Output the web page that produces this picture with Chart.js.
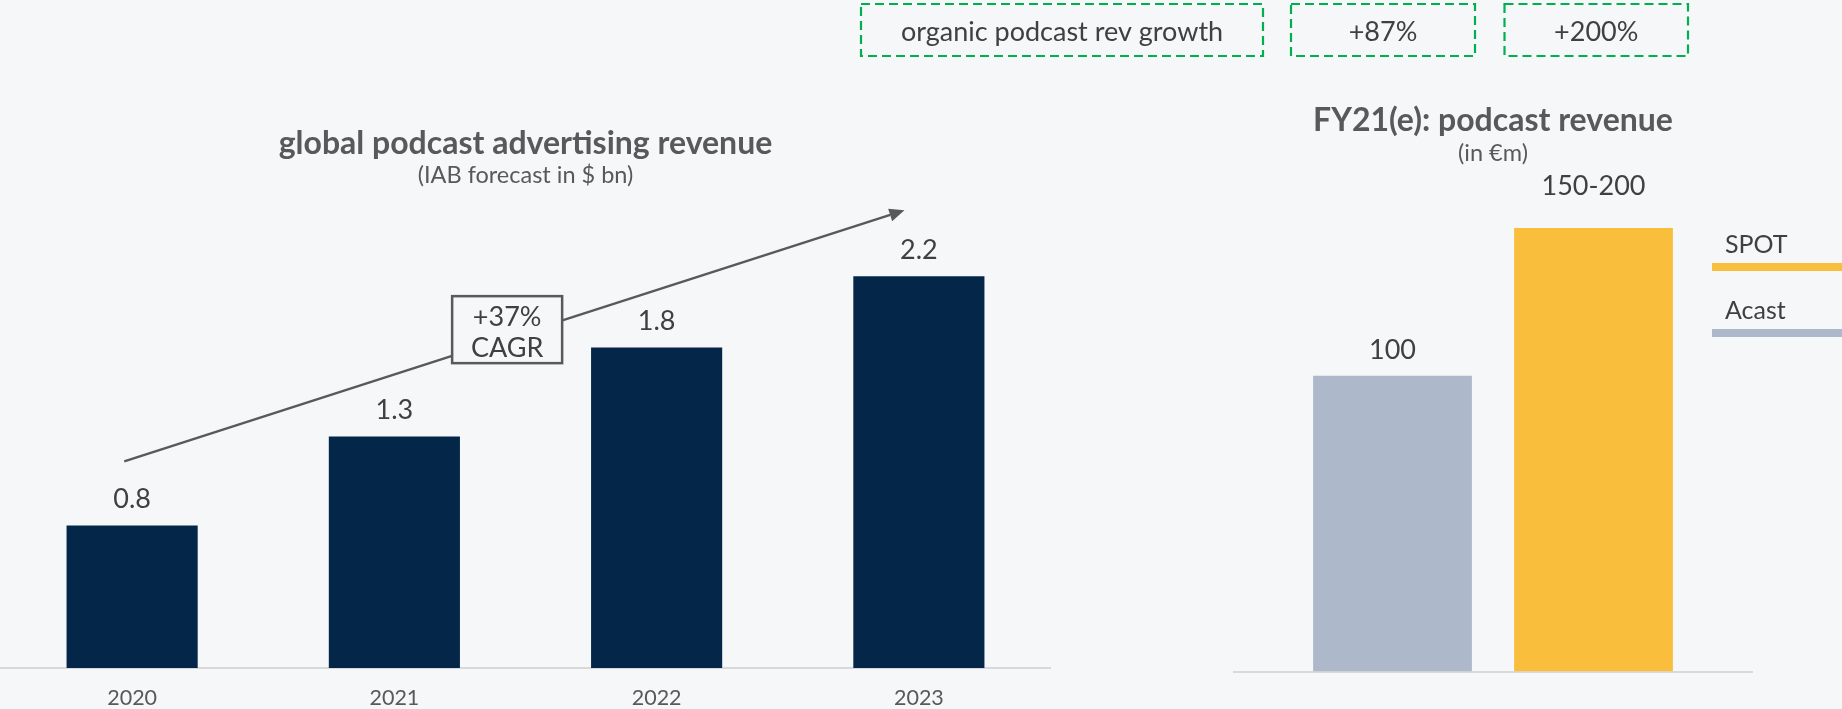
<!DOCTYPE html>
<html>
<head>
<meta charset="utf-8">
<script src="https://cdn.jsdelivr.net/npm/chart.js@4.4.1/dist/chart.umd.min.js"></script>
<style>
  html, body { margin: 0; padding: 0; background: #f6f7f9; }
  body { width: 1842px; height: 709px; position: relative; overflow: hidden; }
  canvas { position: absolute; left: 0; top: 0; }
</style>
</head>
<body>
<canvas id="adChart" width="1842" height="709"></canvas>
<canvas id="fyChart" width="1842" height="709"></canvas>
<script>
// ---- data ----
const years = ['2020', '2021', '2022', '2023'];
const adRevenueBn = [0.8, 1.3, 1.8, 2.2];
const cagrText = ['+37%', 'CAGR'];

const fyCategory = ['FY21(e)'];
const seriesNames = ['Acast', 'SPOT'];
const acastRevenueM = [100];
const spotRevenueRangeM = [150, 200];

const growthHeader = 'organic podcast rev growth';
const growthValues = ['+87%', '+200%'];

// ---- styling ----
const W = 1842;
const FONT = 'Lato, "Open Sans", sans-serif';
const GREY = '#595959';
const DARK = '#404040';
const NAVY = '#042648';
const ACAST = '#adb8cb';
const SPOT = '#f9be3c';
const BG = '#f6f7f9';

function drawText(ctx, s, x, y, size, weight, color, align) {
  ctx.save();
  ctx.font = `${weight} ${size}px ${FONT}`;
  ctx.fillStyle = color;
  ctx.textAlign = align || 'center';
  ctx.textBaseline = 'alphabetic';
  ctx.fillText(s, x, y);
  ctx.restore();
}

// titles, value labels, CAGR trend arrow for the ad revenue chart
const adDecor = {
  id: 'adDecor',
  afterDatasetsDraw(chart) {
    const ctx = chart.ctx;
    const xs = chart.scales.x, ys = chart.scales.y;
    const cx = (chart.chartArea.left + chart.chartArea.right) / 2;
    drawText(ctx, 'global podcast advertising revenue', cx, 153.5, 32, 'bold', GREY);
    drawText(ctx, '(IAB forecast in $ bn)', cx, 182.5, 23.5, 'normal', GREY);

    const meta = chart.getDatasetMeta(0);
    meta.data.forEach((bar, i) => {
      drawText(ctx, adRevenueBn[i].toFixed(1), bar.x, bar.y - 17.5, 27, 'normal', DARK);
    });

    // trend arrow
    const step = xs.getPixelForValue(1) - xs.getPixelForValue(0);
    const x0 = xs.getPixelForValue(0) - 0.03 * step;
    const x1 = xs.getPixelForValue(0) + 2.945 * step;
    const y0 = ys.getPixelForValue(1.16), y1 = ys.getPixelForValue(2.57);
    const ang = Math.atan2(y1 - y0, x1 - x0);
    const headLen = 15, headHalf = 6.5;
    ctx.save();
    ctx.strokeStyle = GREY; ctx.fillStyle = GREY; ctx.lineWidth = 2.4;
    ctx.beginPath();
    ctx.moveTo(x0, y0);
    ctx.lineTo(x1 - headLen * Math.cos(ang), y1 - headLen * Math.sin(ang));
    ctx.stroke();
    ctx.beginPath();
    ctx.moveTo(x1, y1);
    ctx.lineTo(x1 - headLen * Math.cos(ang) - headHalf * Math.sin(ang), y1 - headLen * Math.sin(ang) + headHalf * Math.cos(ang));
    ctx.lineTo(x1 - headLen * Math.cos(ang) + headHalf * Math.sin(ang), y1 - headLen * Math.sin(ang) - headHalf * Math.cos(ang));
    ctx.closePath();
    ctx.fill();

    // CAGR callout box sitting on the arrow
    const bx = xs.getPixelForValue(0) + 1.43 * step;
    const by = ys.getPixelForValue(1.9);
    const bw = 110, bh = 67;
    ctx.fillStyle = BG;
    ctx.fillRect(bx - bw / 2, by - bh / 2, bw, bh);
    ctx.lineWidth = 2.5;
    ctx.strokeStyle = GREY;
    ctx.strokeRect(bx - bw / 2, by - bh / 2, bw, bh);
    ctx.restore();
    drawText(ctx, cagrText[0], bx, by - 4, 27, 'normal', DARK);
    drawText(ctx, cagrText[1], bx, by + 27, 27, 'normal', DARK);
  }
};

// titles, value labels, legend and growth boxes for the FY21 chart
const fyDecor = {
  id: 'fyDecor',
  afterDatasetsDraw(chart) {
    const ctx = chart.ctx;
    const cx = (chart.chartArea.left + chart.chartArea.right) / 2;
    drawText(ctx, 'FY21(e): podcast revenue', cx, 130.5, 32, 'bold', GREY);
    drawText(ctx, '(in €m)', cx, 161, 23.5, 'normal', GREY);

    const acastBar = chart.getDatasetMeta(0).data[0];
    const spotBar = chart.getDatasetMeta(1).data[0];
    drawText(ctx, String(acastRevenueM[0]), acastBar.x, acastBar.y - 17, 27, 'normal', DARK);
    drawText(ctx, `${spotRevenueRangeM[0]}-${spotRevenueRangeM[1]}`, spotBar.x, spotBar.y - 33, 27, 'normal', DARK);

    // legend, listed top to bottom in reverse series order
    const ds = chart.data.datasets;
    [1, 0].forEach((k, row) => {
      const ty = 253 + row * 66;
      drawText(ctx, ds[k].label, 1725, ty, 25, 'normal', DARK, 'left');
      ctx.fillStyle = ds[k].backgroundColor;
      ctx.fillRect(1712, ty + 10, W - 1712, 8);
    });

    // dashed growth boxes
    const boxes = [
      [861, 4, 402, 52, growthHeader],
      [1291, 4, 184, 52, growthValues[0]],
      [1504.5, 4, 183.5, 52, growthValues[1]]
    ];
    ctx.save();
    ctx.strokeStyle = '#00b050';
    ctx.lineWidth = 2.2;
    ctx.setLineDash([9, 5]);
    boxes.forEach(b => ctx.strokeRect(b[0], b[1], b[2], b[3]));
    ctx.restore();
    boxes.forEach(b => drawText(ctx, b[4], b[0] + b[2] / 2, 41, 27, 'normal', DARK));
  }
};

new Chart(document.getElementById('adChart'), {
  type: 'bar',
  data: {
    labels: years,
    datasets: [{ data: adRevenueBn, backgroundColor: NAVY, borderWidth: 0, categoryPercentage: 1, barPercentage: 0.5 }]
  },
  options: {
    responsive: false, animation: false, events: [],
    layout: { padding: { left: 1, right: W - 1050, top: 205, bottom: 0 } },
    plugins: { legend: { display: false }, tooltip: { enabled: false } },
    scales: {
      x: {
        grid: { display: false, drawTicks: false },
        border: { display: true, color: '#d9d9d9', width: 2 },
        ticks: { color: GREY, font: { family: FONT, size: 21.5 }, padding: 17, maxRotation: 0 },
        afterFit(axis) { axis.height = 41; }
      },
      y: { display: false, min: 0, max: 2.6 }
    }
  },
  plugins: [adDecor]
});

new Chart(document.getElementById('fyChart'), {
  type: 'bar',
  data: {
    labels: fyCategory,
    datasets: [
      { label: seriesNames[0], data: acastRevenueM, backgroundColor: ACAST, borderWidth: 0 },
      { label: seriesNames[1], data: [spotRevenueRangeM[0]], backgroundColor: SPOT, borderWidth: 0 }
    ]
  },
  options: {
    responsive: false, animation: false, events: [],
    datasets: { bar: { categoryPercentage: 0.776, barPercentage: 0.79 } },
    layout: { padding: { left: 1234, right: W - 1752, top: 139.2, bottom: 0 } },
    plugins: { legend: { display: false }, tooltip: { enabled: false } },
    scales: {
      x: {
        grid: { display: false, drawTicks: false },
        border: { display: true, color: '#d9d9d9', width: 2 },
        ticks: { display: false },
        afterFit(axis) { axis.height = 37.5; }
      },
      y: { display: false, min: 0, max: 180 }
    }
  },
  plugins: [fyDecor]
});
</script>
</body>
</html>
